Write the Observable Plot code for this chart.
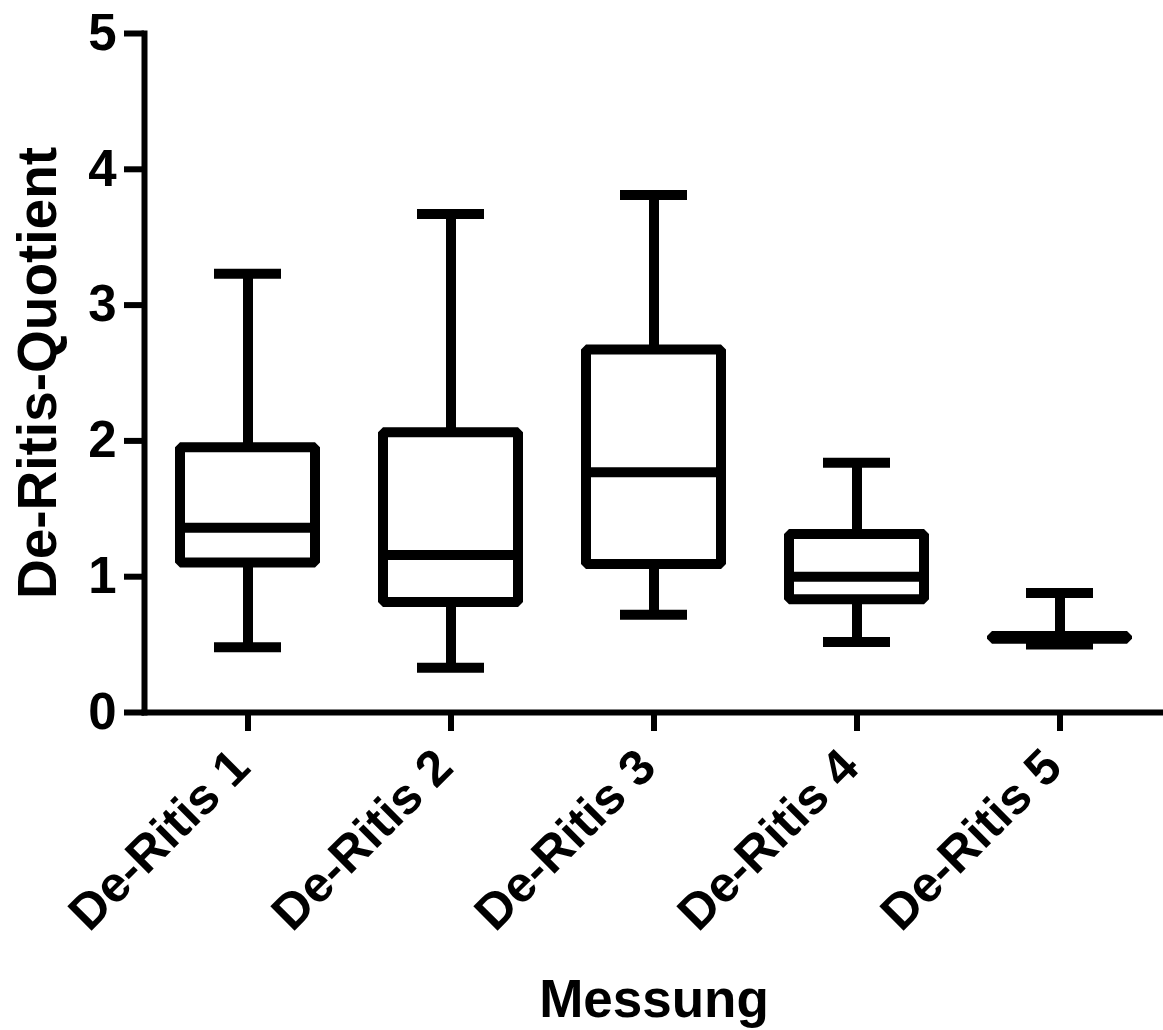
<!DOCTYPE html>
<html>
<head>
<meta charset="utf-8">
<script src="https://cdn.jsdelivr.net/npm/d3@7"></script>
<script src="https://cdn.jsdelivr.net/npm/@observablehq/plot@0.6"></script>
<style>
  html, body { margin: 0; padding: 0; background: #fff; }
  #chart svg { display: block; }
</style>
</head>
<body>
<div id="chart"></div>
<script>
const categories = ["De-Ritis 1", "De-Ritis 2", "De-Ritis 3", "De-Ritis 4", "De-Ritis 5"];
const whiskerLow  = [0.48, 0.33, 0.72, 0.52, 0.50];
const q1          = [1.10, 0.81, 1.09, 0.83, 0.54];
const median      = [1.36, 1.16, 1.77, 1.00, 0.55];
const q3          = [1.95, 2.06, 2.67, 1.31, 0.56];
const whiskerHigh = [3.23, 3.67, 3.81, 1.84, 0.88];
const yTicks = [0, 1, 2, 3, 4, 5];
const xLabel = "Messung";
const yLabel = "De-Ritis-Quotient";

const data = categories.map((c, i) => ({
  cat: c, lo: whiskerLow[i], q1: q1[i], med: median[i], q3: q3[i], hi: whiskerHigh[i]
}));

const font = "'Liberation Sans', Arial, sans-serif";

const chart = Plot.plot({
  width: 1163,
  height: 1030,
  marginLeft: 144,
  marginRight: 0,
  marginTop: 33,
  marginBottom: 318,
  style: { fontFamily: font, color: "black", background: "white", overflow: "visible" },
  x: { type: "band", domain: categories, padding: 0 },
  y: { domain: [0, 5] },
  marks: [
    Plot.ruleX(data, { x: "cat", y1: "q3", y2: "hi", stroke: "black", strokeWidth: 10 }),
    Plot.ruleX(data, { x: "cat", y1: "lo", y2: "q1", stroke: "black", strokeWidth: 10 }),
    Plot.barY(data, { x: "cat", y1: "q1", y2: "q3", fill: "white", stroke: "black", strokeWidth: 10, strokeLinejoin: "bevel", insetLeft: 34, insetRight: 34 }),
    Plot.tickY(data, { x: "cat", y: "med", stroke: "black", strokeWidth: 10, inset: 34 }),
    Plot.tickY(data, { x: "cat", y: "hi", stroke: "black", strokeWidth: 10, inset: 68 }),
    Plot.tickY(data, { x: "cat", y: "lo", stroke: "black", strokeWidth: 10, inset: 68 }),
    Plot.frame({ anchor: "left", stroke: "black", strokeWidth: 6 }),
    Plot.frame({ anchor: "bottom", stroke: "black", strokeWidth: 6 }),
    Plot.axisY({ ticks: yTicks, tickFormat: "d", tickSize: 20, tickPadding: 8, strokeWidth: 6, fontSize: 51, fontWeight: "bold", label: null }),
    Plot.axisX({ tickSize: 19, strokeWidth: 6, fill: "none", label: null }),
    Plot.axisX({ tickSize: 0, tickPadding: 46, dx: -7, tickRotate: -45, fontSize: 50, fontWeight: "bold", label: null }),
    Plot.axisY({ ticks: [], tickSize: 0, label: yLabel, labelAnchor: "center", labelOffset: 128, labelArrow: "none", fontSize: 55, fontWeight: "bold" }),
    Plot.axisX({ ticks: [], tickSize: 0, label: xLabel, labelAnchor: "center", labelOffset: 304, labelArrow: "none", fontSize: 53, fontWeight: "bold" })
  ]
});
document.getElementById("chart").appendChild(chart);
</script>
</body>
</html>
